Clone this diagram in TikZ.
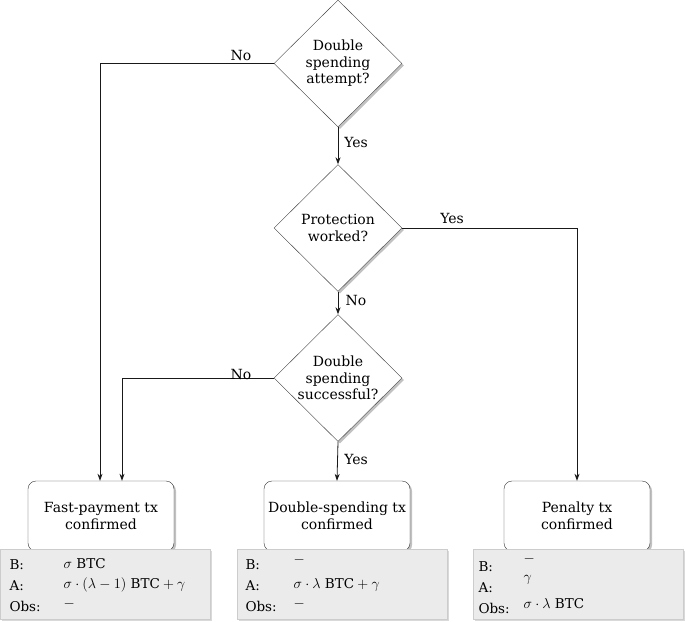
\documentclass[tikz,border=0pt]{standalone}
\usepackage{fontspec}
\setmainfont{DejaVu Serif}
\usetikzlibrary{shapes.geometric,shadows,arrows.meta}
\begin{document}
\begin{tikzpicture}[x=1pt,y=-1pt,
  every node/.style={font=\fontsize{14}{16.5}\selectfont},
  dec/.style={draw=black!75,shape=diamond,fill=white,minimum width=128pt,minimum height=127pt,inner sep=0pt,align=center,
    drop shadow={shadow xshift=2pt,shadow yshift=-2pt,fill=black!35,opacity=0.7}},
  res/.style={draw=black!80,rounded corners=8pt,fill=white,minimum width=146pt,minimum height=70pt,align=center,
    drop shadow={shadow xshift=2pt,shadow yshift=-2pt,fill=black!35,opacity=0.7}},
  info/.style={draw=black!20,fill=black!8,minimum width=210pt,minimum height=70pt,inner sep=0pt,
    drop shadow={shadow xshift=2pt,shadow yshift=-2pt,fill=black!25,opacity=0.6}},
  arr/.style={draw=black!90,line width=0.8pt,-{Stealth[length=7pt,width=5pt]}},
  lab/.style={font=\fontsize{14}{16}\selectfont},
  itx/.style={anchor=west,font=\fontsize{13.5}{16}\selectfont},
  imx/.style={anchor=west,font=\fontsize{13.5}{16}\selectfont}
]
\useasboundingbox (0,0) rectangle (685,621);
\node[dec] (d1) at (338,63.5) {Double\\spending\\attempt?};
\node[dec] (d2) at (338,228) {Protection\\worked?};
\node[dec] (d3) at (338,378) {Double\\spending\\successful?};
\node[res] (r1) at (101,516) {Fast-payment tx\\confirmed};
\node[res] (r2) at (337,516) {Double-spending tx\\confirmed};
\node[res] (r3) at (577,516) {Penalty tx\\confirmed};
\node[info] (i1) at (105,584) {};
\node[info] (i2) at (342,584) {};
\node[info] (i3) at (578,584) {};
% info texts
\node[itx] (i1b) at (6,565) {B:};
\node[itx] (i1a) at (6,586) {A:};
\node[itx] (i1o) at (6,606) {Obs:};
\node[imx] (i1bv) at (60,564) {$\sigma$ BTC};
\node[imx] (i1av) at (60,585) {$\sigma\cdot(\lambda-1)$ BTC${}+\gamma$};
\node[imx] (i1ov) at (60,604) {$-$};
\node[itx] (i2b) at (242,565) {B:};
\node[itx] (i2a) at (242,586) {A:};
\node[itx] (i2o) at (242,606) {Obs:};
\node[imx] (i2bv) at (290,560) {$-$};
\node[imx] (i2av) at (290,585) {$\sigma\cdot\lambda$ BTC${}+\gamma$};
\node[imx] (i2ov) at (290,604) {$-$};
\node[itx] (i3b) at (475,567) {B:};
\node[itx] (i3a) at (475,588) {A:};
\node[itx] (i3o) at (475,608) {Obs:};
\node[imx] (i3bv) at (520,559) {$-$};
\node[imx] (i3av) at (520,580) {$\gamma$};
\node[imx] (i3ov) at (520,604) {$\sigma\cdot\lambda$ BTC};
% connectors
\draw[arr] (d1.west) -- (100,63.5) -- (r1.north -| 100,0);
\draw[arr] (d1.south) -- (d2.north);
\draw[arr] (d2.south) -- (d3.north);
\draw[arr] (d2.east) -- (r3.north |- d2.east) -- (r3.north);
\draw[arr] (d3.west) -- (122,378) -- (r1.north -| 122,0);
\draw[arr] (d3.south) -- (r2.north);
% labels
\node[lab] (l1) at (241,55) {No};
\node[lab] (l2) at (356,142) {Yes};
\node[lab] (l3) at (452,218) {Yes};
\node[lab] (l4) at (356,300) {No};
\node[lab] (l5) at (241,374) {No};
\node[lab] (l6) at (356,459) {Yes};
\end{tikzpicture}
\end{document}
